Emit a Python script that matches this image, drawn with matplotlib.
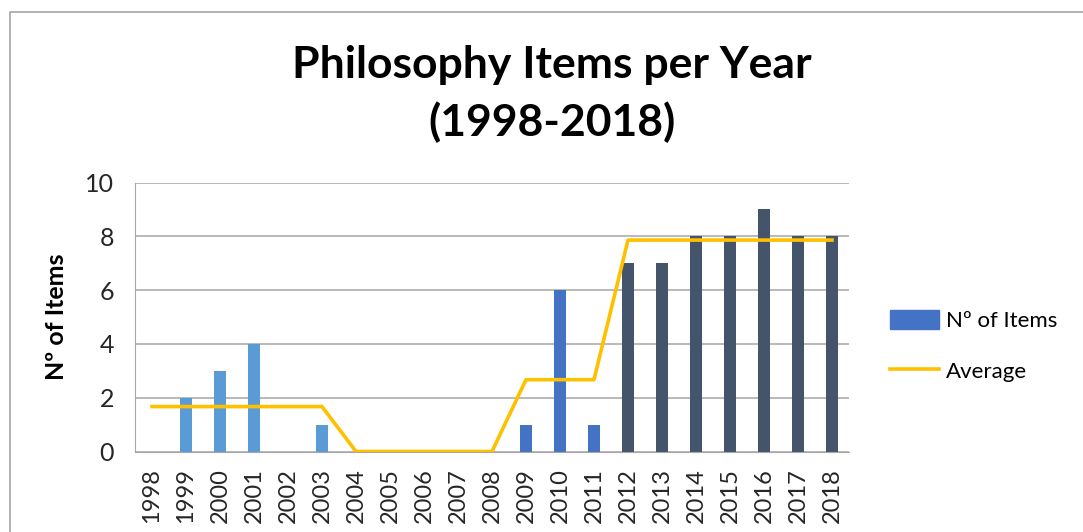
import matplotlib
matplotlib.use('Agg')

import matplotlib.pyplot as plt
from matplotlib.patches import Patch, Rectangle
from matplotlib.lines import Line2D

# data
years = ['1998', '1999', '2000', '2001', '2002', '2003', '2004', '2005', '2006', '2007',
         '2008', '2009', '2010', '2011', '2012', '2013', '2014', '2015', '2016', '2017', '2018']
items = [0, 2, 3, 4, 0, 1, 0, 0, 0, 0, 0, 1, 6, 1, 7, 7, 8, 8, 9, 8, 8]
average = [1.67, 1.67, 1.67, 1.67, 1.67, 1.67, 0, 0, 0, 0, 0,
           2.67, 2.67, 2.67, 7.86, 7.86, 7.86, 7.86, 7.86, 7.86, 7.86]
period = ['a'] * 6 + ['b'] * 5 + ['c'] * 3 + ['d'] * 7

period_colors = {'a': '#5B9BD5', 'b': '#5B9BD5', 'c': '#4472C4', 'd': '#44546A'}
FONT = 'Lato'

fig = plt.figure(figsize=(10.83, 5.32), dpi=100)
fig.patches.append(Rectangle((10 / 1083, -0.1), 1.2, 1 - 12 / 532 + 0.1,
                             transform=fig.transFigure, fill=False,
                             edgecolor='#A6A6A6', lw=1.2))

ax = fig.add_axes([135 / 1083, 1 - 451.5 / 532, (849 - 135) / 1083, (451.5 - 182.5) / 532])

x = list(range(len(years)))
ax.bar(x, items, width=0.37, color=[period_colors[p] for p in period], zorder=2)
ax.plot(x, average, color='#FFC000', lw=2.6, zorder=3)

ax.set_xlim(-0.5, len(years) - 0.5)
ax.set_ylim(0, 10)
ax.set_yticks([0, 2, 4, 6, 8, 10])
ax.set_xticks(x)
ax.set_xticklabels(years, rotation=90, fontsize=17, family=FONT)
for lab in ax.get_yticklabels():
    lab.set_fontsize(18)
    lab.set_family(FONT)
ax.tick_params(length=0, colors='#262626')
ax.tick_params(axis='y', pad=15)
ax.tick_params(axis='x', pad=12)
ax.yaxis.grid(True, color='#A6A6A6', lw=1.1, zorder=0)
for s in ['top', 'right']:
    ax.spines[s].set_visible(False)
ax.spines['left'].set_color('#A6A6A6')
ax.spines['bottom'].set_color('#A6A6A6')
ax.set_ylabel('Nº of Items', fontsize=18, fontweight='bold', family=FONT, labelpad=12)

fig.text(552 / 1083, 1 - 65 / 532, 'Philosophy Items per Year', ha='center', va='center',
         fontsize=32, fontweight='bold', family=FONT)
fig.text(552 / 1083, 1 - 122 / 532, '(1998-2018)', ha='center', va='center',
         fontsize=32, fontweight='bold', family=FONT)

handles = [Patch(color='#4472C4'), Line2D([], [], color='#FFC000', lw=2.6)]
fig.legend(handles, ['Nº of Items', 'Average'], loc='center left',
           bbox_to_anchor=(870 / 1083, 1 - 346 / 532), frameon=False,
           prop={'family': FONT, 'size': 16}, handlelength=2.2, handleheight=0.9,
           handletextpad=0.3, labelspacing=1.35)

fig.savefig('out.png', dpi=100)
